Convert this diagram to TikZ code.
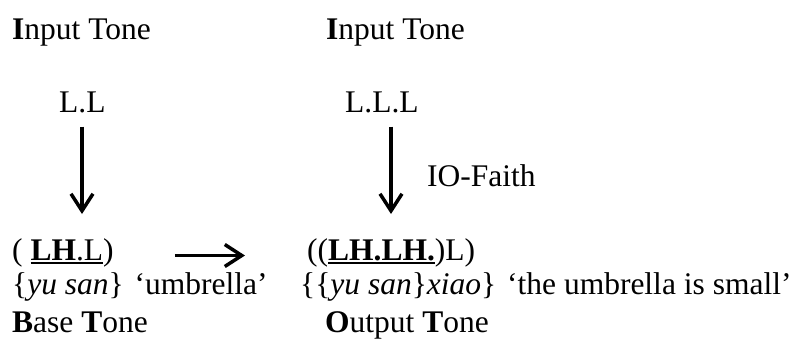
\documentclass[tikz,border=0pt]{standalone}
\usepackage{fontspec}
\setmainfont{Liberation Serif}
\usetikzlibrary{arrows.meta}
% underline drawn as a rule just below the baseline
\newcommand{\tonebar}[1]{\sbox0{#1}\rlap{\rule[-3.5bp]{\wd0}{2bp}}\usebox0}
\begin{document}
\begin{tikzpicture}[x=1bp,y=-1bp,
  every node/.style={inner sep=0pt, anchor=base west,
    font=\fontsize{31.5bp}{34bp}\selectfont},
  flow/.style={line width=3.5bp, -{Straight Barb[length=17bp,width=22bp]}},
]
\useasboundingbox (0,0) rectangle (793,338);
% top labels
\node (in1) at (12,39) {\textbf{I}nput Tone};
\node (in2) at (326,39) {\textbf{I}nput Tone};
\node (ll) at (59,112) {L.L};
\node (lll) at (345,112) {L.L.L};
\node (faith) at (427,186) {IO-Faith};
% bottom rows
\node (base) at (12,260) {( \tonebar{\textbf{LH}.L})};
\node (out) at (307,260) {((\tonebar{\textbf{LH.LH.}})L)};
\node (gl1) at (12,294.5) {\{\textit{yu san}\}\hspace{3bp} `umbrella'};
\node (gl2) at (300,294.5) {\{\{\textit{yu san}\}\textit{xiao}\}\hspace{3bp} `the umbrella is small'};
\node (bt) at (12,332) {\textbf{B}ase \textbf{T}one};
\node (ot) at (325,332) {\textbf{O}utput \textbf{T}one};
% arrows
\coordinate (d1) at (82,214);
\coordinate (d2) at (391,214);
\draw[flow, shorten <=14bp] (d1 |- ll.south) -- (d1);
\draw[flow, shorten <=14bp] (d2 |- lll.south) -- (d2);
\draw[flow, shorten <=61bp, shorten >=62bp]
  ([yshift=4.5bp]base.base east) -- ([yshift=4.5bp]out.base west);
\end{tikzpicture}
\end{document}
